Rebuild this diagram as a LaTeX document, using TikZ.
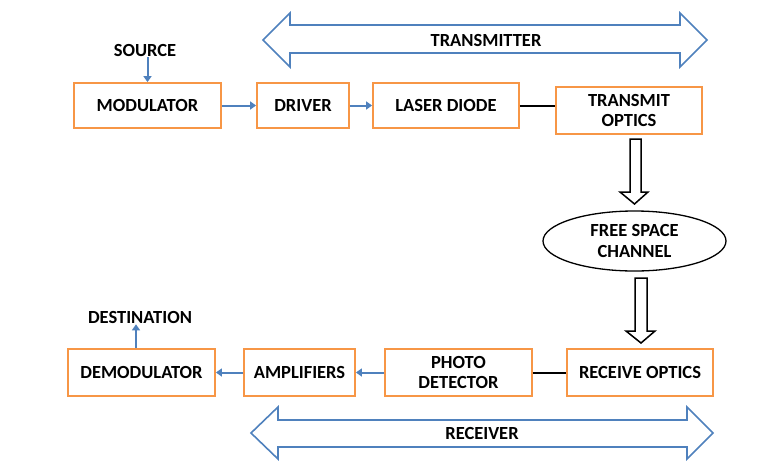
\documentclass[tikz,border=0pt]{standalone}
\usepackage{fontspec}
\setmainfont{Carlito}
\usetikzlibrary{arrows.meta,shapes.geometric,calc}
\definecolor{boxorange}{RGB}{247,150,70}
\definecolor{arrblue}{RGB}{79,129,189}
\begin{document}
\begin{tikzpicture}[x=1pt,y=-1pt,
  font=\fontsize{18.5}{20.5}\selectfont\bfseries,
  blk/.style={draw=boxorange,line width=1.8pt,fill=white,align=center,inner sep=0pt},
  conn/.style={draw=arrblue,line width=2pt,-{Triangle[width=8pt,length=6pt]}},
  plain/.style={draw=black,line width=2pt},
  hollow/.style={draw=black,line width=1.5pt,fill=white,line join=miter},
  bigblue/.style={draw=arrblue,line width=1.6pt,fill=white,line join=miter},
  lbl/.style={inner sep=1pt}]
\useasboundingbox (0,0) rectangle (768,466);

% double arrows
\draw[bigblue] (263,40) -- (290,13) -- (290,25) -- (680,25) -- (680,13) -- (707,40)
  -- (680,67) -- (680,53) -- (290,53) -- (290,67) -- cycle;
\node[lbl] (tx) at (486,40) {TRANSMITTER};
\draw[bigblue] (251,433) -- (278,407) -- (278,420) -- (687,420) -- (687,407) -- (713,433)
  -- (687,459) -- (687,447) -- (278,447) -- (278,459) -- cycle;
\node[lbl] (rx) at (482,433) {RECEIVER};

% top row
\node[blk,minimum width=147pt,minimum height=45pt] (mod) at (147.5,105.5) {MODULATOR};
\node[blk,minimum width=92pt,minimum height=45pt] (drv) at (303,105.5) {DRIVER};
\node[blk,minimum width=146pt,minimum height=45pt] (ld) at (446,105.5) {LASER DIODE};
\node[blk,minimum width=146pt,minimum height=47pt] (to) at (629,110.5) {TRANSMIT\\OPTICS};
\node[lbl] (src) at (145,50) {SOURCE};

% channel
\node[draw=black,line width=1.3pt,ellipse,minimum width=183pt,minimum height=60pt,inner sep=0pt,align=center,fill=white] (fsc) at (634.5,241) {FREE SPACE\\CHANNEL};

% bottom row
\node[blk,minimum width=147pt,minimum height=47pt] (dem) at (141.5,372.5) {DEMODULATOR};
\node[blk,minimum width=111pt,minimum height=47pt] (amp) at (299.5,372.5) {AMPLIFIERS};
\node[blk,minimum width=147pt,minimum height=47pt] (pd) at (458.5,372.5) {PHOTO\\DETECTOR};
\node[blk,minimum width=146pt,minimum height=47pt] (ro) at (640,372.5) {RECEIVE OPTICS};
\node[lbl] (dst) at (140,317) {DESTINATION};

% connectors
\draw[conn] (src.south -| mod.north) -- (mod.north);
\draw[conn] (mod.east) -- (drv.west);
\draw[conn] (drv.east) -- (ld.west);
\draw[plain] (ld.east) -- (ld.east -| to.west);
\draw[plain] (pd.east) -- (ro.west);
\draw[conn] (pd.west) -- (amp.east);
\draw[conn] (amp.west) -- (dem.west -| dem.east);
\draw[conn] (dem.north -| 136,0) -- (dst.south -| 136,0);

% hollow arrows
\draw[hollow] (630,139) -- (641,139) -- (641,192) -- (648,192) -- (634.5,204)
  -- (620,192) -- (630,192) -- cycle;
\draw[hollow] (635,278) -- (647,278) -- (647,331) -- (655,331) -- (641,343)
  -- (626,331) -- (635,331) -- cycle;
\end{tikzpicture}
\end{document}
